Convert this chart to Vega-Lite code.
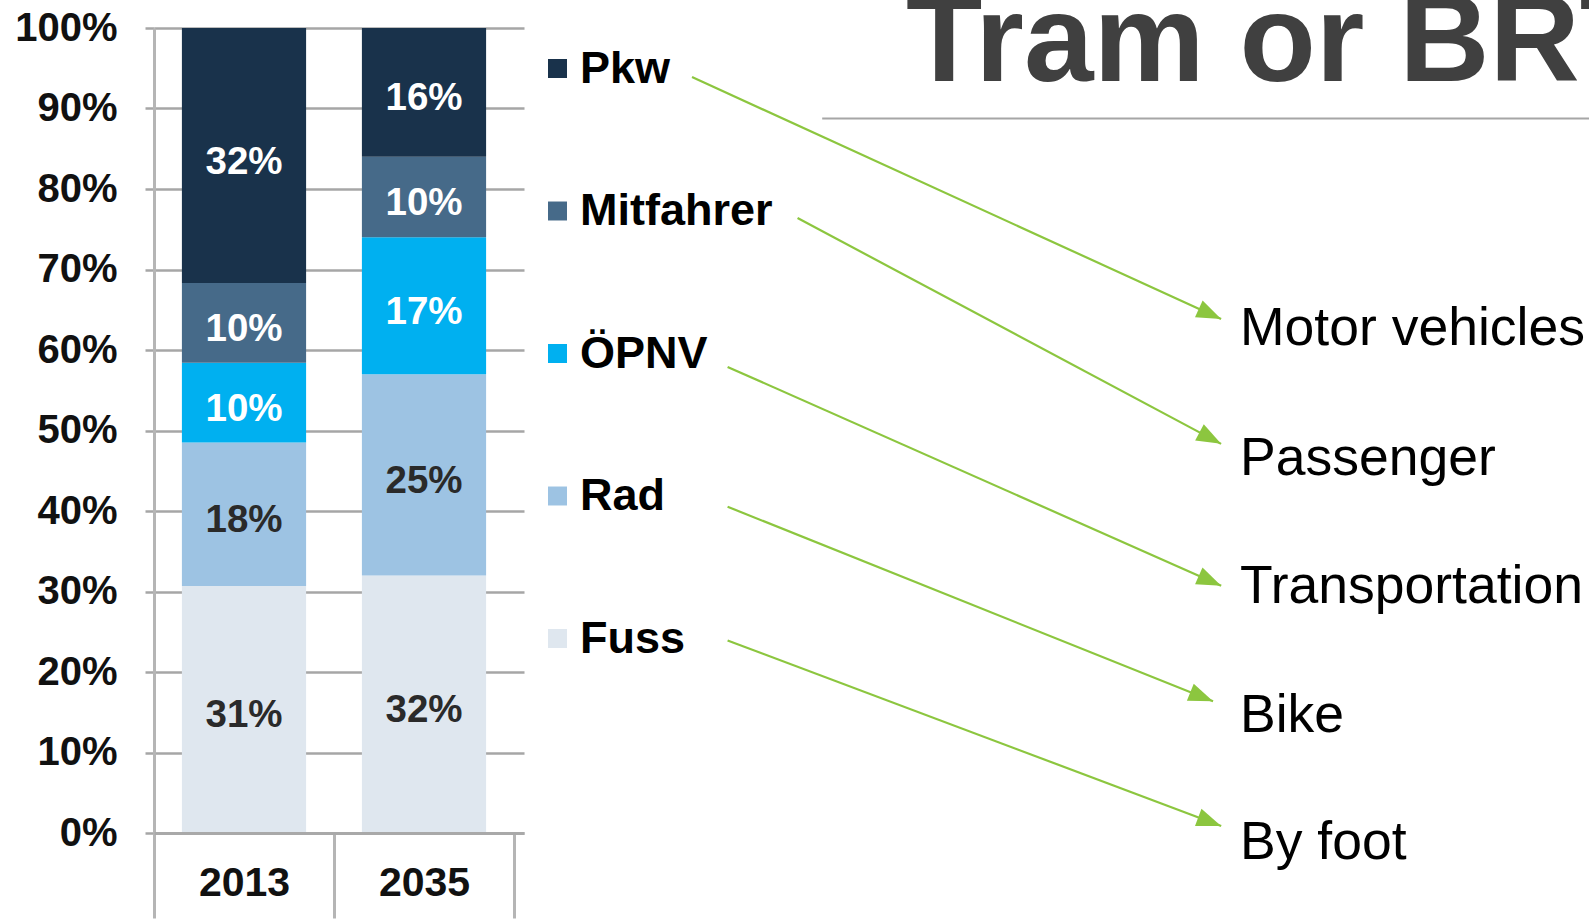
{
  "$schema": "https://vega.github.io/schema/vega-lite/v6.json",
  "width": 370,
  "height": 805,
  "autosize": {"type": "none"},
  "padding": {"left": 154, "top": 28, "right": 1065, "bottom": 89},
  "background": "#ffffff",
  "config": {"view": {"stroke": null}, "font": "Liberation Sans"},
  "resolve": {"scale": {"x": "independent", "y": "independent"}, "axis": {"x": "independent", "y": "independent"}},
  "layer": [
    {
      "data": {
        "values": [
          {"year": "2013", "mode": "Fuss", "pct": 0.31, "o": 1},
          {"year": "2013", "mode": "Rad", "pct": 0.18, "o": 2},
          {"year": "2013", "mode": "ÖPNV", "pct": 0.10, "o": 3},
          {"year": "2013", "mode": "Mitfahrer", "pct": 0.10, "o": 4},
          {"year": "2013", "mode": "Pkw", "pct": 0.32, "o": 5},
          {"year": "2035", "mode": "Fuss", "pct": 0.32, "o": 1},
          {"year": "2035", "mode": "Rad", "pct": 0.25, "o": 2},
          {"year": "2035", "mode": "ÖPNV", "pct": 0.17, "o": 3},
          {"year": "2035", "mode": "Mitfahrer", "pct": 0.10, "o": 4},
          {"year": "2035", "mode": "Pkw", "pct": 0.16, "o": 5}
        ]
      },
      "encoding": {
        "x": {
          "field": "year", "type": "nominal",
          "scale": {"paddingInner": 0, "paddingOuter": 0.02778, "align": 0},
          "axis": {
            "title": null, "tickBand": "extent", "tickSize": 85, "tickWidth": 3, "tickColor": "#b5b5b5",
            "domainColor": "#a9a9a9", "domainWidth": 3, "grid": false, "zindex": 1,
            "labelFont": "Liberation Sans", "labelFontSize": 41, "labelFontWeight": "bold", "labelColor": "#111111",
            "labelAngle": 0, "labelPadding": -55
          }
        },
        "y": {
          "field": "pct", "type": "quantitative", "stack": "normalize",
          "scale": {"domain": [0, 1], "nice": false},
          "axis": {
            "title": null, "values": [0, 0.1, 0.2, 0.3, 0.4, 0.5, 0.6, 0.7, 0.8, 0.9, 1], "format": ".0%",
            "labelFont": "Liberation Sans", "labelFontSize": 40, "labelFontWeight": "bold", "labelColor": "#111111",
            "labelPadding": 28, "labelFlush": false, "labelOverlap": false, "labelBound": false,
            "tickSize": 9, "tickWidth": 2.5, "tickColor": "#a6a6a6",
            "domainColor": "#b5b5b5", "domainWidth": 3,
            "grid": true, "gridColor": "#a6a6a6", "gridWidth": 2.5
          }
        },
        "order": {"field": "o", "type": "quantitative"}
      },
      "layer": [
        {
          "mark": {"type": "bar", "width": {"band": 0.69}},
          "encoding": {
            "color": {
              "field": "mode", "type": "nominal",
              "scale": {
                "domain": ["Pkw", "Mitfahrer", "ÖPNV", "Rad", "Fuss"],
                "range": ["#19324b", "#466a89", "#00b0f0", "#9dc3e3", "#dfe7ef"]
              },
              "legend": {
                "orient": "none", "legendX": 381, "legendY": 18, "title": null, "padding": 0,
                "symbolType": "square", "symbolSize": 360, "symbolStrokeWidth": 0,
                "labelFont": "Liberation Sans", "labelFontSize": 45, "labelFontWeight": "bold", "labelColor": "#000000",
                "labelOffset": 0, "rowPadding": 96.5, "labelLimit": 400
              }
            }
          }
        },
        {
          "mark": {"type": "text", "font": "Liberation Sans", "fontWeight": "bold", "fontSize": 38.5, "baseline": "middle", "align": "center", "dy": 6},
          "encoding": {
            "y": {"field": "pct", "type": "quantitative", "stack": "normalize", "bandPosition": 0.5},
            "detail": {"field": "mode", "type": "nominal"},
            "text": {"field": "pct", "type": "quantitative", "format": ".0%"},
            "color": {
              "condition": {"test": "datum.mode === 'Rad' || datum.mode === 'Fuss'", "value": "#2a2a2a"},
              "value": "#ffffff"
            }
          }
        }
      ]
    },
    {
      "data": {"values": [{"note": "annotation"}]},
      "layer": [
        {
          "mark": {"type": "text", "font": "Liberation Sans", "fontWeight": "bold", "fontSize": 125, "color": "#404040", "align": "left", "baseline": "alphabetic", "text": "Tram or BRT"},
          "encoding": {
            "x": {"datum": 93.4, "type": "quantitative", "scale": {"domain": [0, 45.96], "nice": false, "zero": false}, "axis": null},
            "y": {"datum": 93.42, "type": "quantitative", "scale": {"domain": [0, 100], "nice": false, "zero": false}, "axis": null}
          }
        },
        {
          "mark": {"type": "rule", "color": "#a6a6a6", "strokeWidth": 2},
          "encoding": {
            "x": {"datum": 83.0, "type": "quantitative", "scale": {"domain": [0, 45.96], "nice": false, "zero": false}, "axis": null},
            "y": {"datum": 88.76, "type": "quantitative", "scale": {"domain": [0, 100], "nice": false, "zero": false}, "axis": null},
            "x2": {"datum": 190},
            "y2": {"datum": 88.76}
          }
        },
        {
          "mark": {"type": "rule", "color": "#8cc63f", "strokeWidth": 2.2},
          "encoding": {
            "x": {"datum": 66.83, "type": "quantitative", "scale": {"domain": [0, 45.96], "nice": false, "zero": false}, "axis": null},
            "y": {"datum": 93.91, "type": "quantitative", "scale": {"domain": [0, 100], "nice": false, "zero": false}, "axis": null},
            "x2": {"datum": 132.55},
            "y2": {"datum": 63.85}
          }
        },
        {
          "mark": {"type": "rule", "color": "#8cc63f", "strokeWidth": 2.2},
          "encoding": {
            "x": {"datum": 79.94, "type": "quantitative", "scale": {"domain": [0, 45.96], "nice": false, "zero": false}, "axis": null},
            "y": {"datum": 76.40, "type": "quantitative", "scale": {"domain": [0, 100], "nice": false, "zero": false}, "axis": null},
            "x2": {"datum": 132.55},
            "y2": {"datum": 48.34}
          }
        },
        {
          "mark": {"type": "rule", "color": "#8cc63f", "strokeWidth": 2.2},
          "encoding": {
            "x": {"datum": 71.25, "type": "quantitative", "scale": {"domain": [0, 45.96], "nice": false, "zero": false}, "axis": null},
            "y": {"datum": 57.90, "type": "quantitative", "scale": {"domain": [0, 100], "nice": false, "zero": false}, "axis": null},
            "x2": {"datum": 132.56},
            "y2": {"datum": 30.72}
          }
        },
        {
          "mark": {"type": "rule", "color": "#8cc63f", "strokeWidth": 2.2},
          "encoding": {
            "x": {"datum": 71.25, "type": "quantitative", "scale": {"domain": [0, 45.96], "nice": false, "zero": false}, "axis": null},
            "y": {"datum": 40.53, "type": "quantitative", "scale": {"domain": [0, 100], "nice": false, "zero": false}, "axis": null},
            "x2": {"datum": 131.55},
            "y2": {"datum": 16.36}
          }
        },
        {
          "mark": {"type": "rule", "color": "#8cc63f", "strokeWidth": 2.2},
          "encoding": {
            "x": {"datum": 71.25, "type": "quantitative", "scale": {"domain": [0, 45.96], "nice": false, "zero": false}, "axis": null},
            "y": {"datum": 23.91, "type": "quantitative", "scale": {"domain": [0, 100], "nice": false, "zero": false}, "axis": null},
            "x2": {"datum": 132.56},
            "y2": {"datum": 0.88}
          }
        },
        {
          "mark": {"type": "point", "shape": "M0,0L-2,-0.75L-2,0.75Z", "size": 600, "filled": true, "color": "#8cc63f", "opacity": 1, "strokeWidth": 0, "angle": 24.58},
          "encoding": {
            "x": {"datum": 132.55, "type": "quantitative", "scale": {"domain": [0, 45.96], "nice": false, "zero": false}, "axis": null},
            "y": {"datum": 63.85, "type": "quantitative", "scale": {"domain": [0, 100], "nice": false, "zero": false}, "axis": null}
          }
        },
        {
          "mark": {"type": "point", "shape": "M0,0L-2,-0.75L-2,0.75Z", "size": 600, "filled": true, "color": "#8cc63f", "opacity": 1, "strokeWidth": 0, "angle": 28.02},
          "encoding": {
            "x": {"datum": 132.55, "type": "quantitative", "scale": {"domain": [0, 45.96], "nice": false, "zero": false}, "axis": null},
            "y": {"datum": 48.34, "type": "quantitative", "scale": {"domain": [0, 100], "nice": false, "zero": false}, "axis": null}
          }
        },
        {
          "mark": {"type": "point", "shape": "M0,0L-2,-0.75L-2,0.75Z", "size": 600, "filled": true, "color": "#8cc63f", "opacity": 1, "strokeWidth": 0, "angle": 23.92},
          "encoding": {
            "x": {"datum": 132.56, "type": "quantitative", "scale": {"domain": [0, 45.96], "nice": false, "zero": false}, "axis": null},
            "y": {"datum": 30.72, "type": "quantitative", "scale": {"domain": [0, 100], "nice": false, "zero": false}, "axis": null}
          }
        },
        {
          "mark": {"type": "point", "shape": "M0,0L-2,-0.75L-2,0.75Z", "size": 600, "filled": true, "color": "#8cc63f", "opacity": 1, "strokeWidth": 0, "angle": 21.85},
          "encoding": {
            "x": {"datum": 131.55, "type": "quantitative", "scale": {"domain": [0, 45.96], "nice": false, "zero": false}, "axis": null},
            "y": {"datum": 16.36, "type": "quantitative", "scale": {"domain": [0, 100], "nice": false, "zero": false}, "axis": null}
          }
        },
        {
          "mark": {"type": "point", "shape": "M0,0L-2,-0.75L-2,0.75Z", "size": 600, "filled": true, "color": "#8cc63f", "opacity": 1, "strokeWidth": 0, "angle": 20.59},
          "encoding": {
            "x": {"datum": 132.56, "type": "quantitative", "scale": {"domain": [0, 45.96], "nice": false, "zero": false}, "axis": null},
            "y": {"datum": 0.88, "type": "quantitative", "scale": {"domain": [0, 100], "nice": false, "zero": false}, "axis": null}
          }
        },
        {
          "mark": {"type": "text", "font": "Liberation Sans", "fontSize": 53.5, "color": "#000000", "align": "left", "baseline": "alphabetic", "text": "Motor vehicles"},
          "encoding": {
            "x": {"datum": 134.9, "type": "quantitative", "scale": {"domain": [0, 45.96], "nice": false, "zero": false}, "axis": null},
            "y": {"datum": 60.62, "type": "quantitative", "scale": {"domain": [0, 100], "nice": false, "zero": false}, "axis": null}
          }
        },
        {
          "mark": {"type": "text", "font": "Liberation Sans", "fontSize": 53.5, "color": "#000000", "align": "left", "baseline": "alphabetic", "text": "Passenger"},
          "encoding": {
            "x": {"datum": 134.9, "type": "quantitative", "scale": {"domain": [0, 45.96], "nice": false, "zero": false}, "axis": null},
            "y": {"datum": 44.41, "type": "quantitative", "scale": {"domain": [0, 100], "nice": false, "zero": false}, "axis": null}
          }
        },
        {
          "mark": {"type": "text", "font": "Liberation Sans", "fontSize": 53.5, "color": "#000000", "align": "left", "baseline": "alphabetic", "text": "Transportation"},
          "encoding": {
            "x": {"datum": 134.9, "type": "quantitative", "scale": {"domain": [0, 45.96], "nice": false, "zero": false}, "axis": null},
            "y": {"datum": 28.57, "type": "quantitative", "scale": {"domain": [0, 100], "nice": false, "zero": false}, "axis": null}
          }
        },
        {
          "mark": {"type": "text", "font": "Liberation Sans", "fontSize": 53.5, "color": "#000000", "align": "left", "baseline": "alphabetic", "text": "Bike"},
          "encoding": {
            "x": {"datum": 134.9, "type": "quantitative", "scale": {"domain": [0, 45.96], "nice": false, "zero": false}, "axis": null},
            "y": {"datum": 12.55, "type": "quantitative", "scale": {"domain": [0, 100], "nice": false, "zero": false}, "axis": null}
          }
        },
        {
          "mark": {"type": "text", "font": "Liberation Sans", "fontSize": 53.5, "color": "#000000", "align": "left", "baseline": "alphabetic", "text": "By foot"},
          "encoding": {
            "x": {"datum": 134.9, "type": "quantitative", "scale": {"domain": [0, 45.96], "nice": false, "zero": false}, "axis": null},
            "y": {"datum": -3.17, "type": "quantitative", "scale": {"domain": [0, 100], "nice": false, "zero": false}, "axis": null}
          }
        }
      ]
    }
  ]
}
